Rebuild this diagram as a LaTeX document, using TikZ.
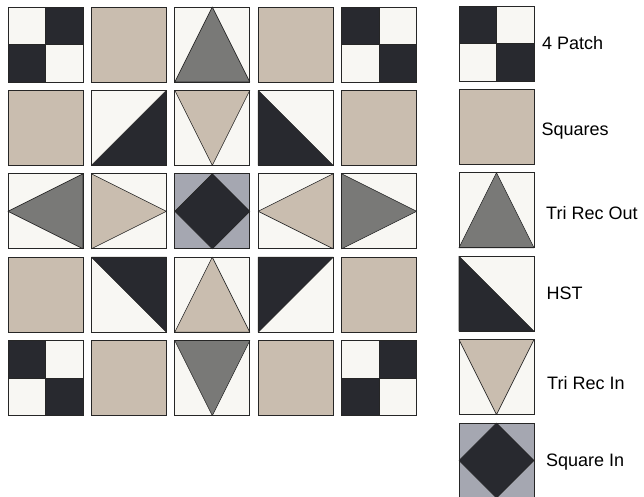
\documentclass[tikz,border=0pt]{standalone}
\usepackage{fontspec}
\setmainfont{Liberation Sans}
\definecolor{cream}{HTML}{F8F7F3}
\definecolor{ink}{HTML}{28292F}
\definecolor{sand}{HTML}{C9BDAF}
\definecolor{slate}{HTML}{797977}
\definecolor{mist}{HTML}{A5A7B1}
\tikzstyle{edge}=[draw=black!85, line width=0.8pt]
\tikzstyle{piece}=[edge, line width=0.6pt, line join=round]
\tikzstyle{label}=[anchor=base west, inner sep=0pt, font={\fontsize{18}{21}\selectfont}]
% one block: x, y (top left, px), ground colour, pieces
\newcommand{\quiltblock}[4]{%
  \begin{scope}[shift={(#1,#2)}, x=75pt, y=-75pt]
    \fill[#3] (0,0) rectangle (1,1);
    #4
    \draw[edge] (0,0) rectangle (1,1);
  \end{scope}}
\newcommand{\patchTL}{\fill[ink] (0,0) rectangle (0.5,0.5); \fill[ink] (0.5,0.5) rectangle (1,1); \draw[piece] (0.5,0) -- (0.5,1) (0,0.5) -- (1,0.5);}
\newcommand{\patchTR}{\fill[ink] (0.5,0) rectangle (1,0.5); \fill[ink] (0,0.5) rectangle (0.5,1); \draw[piece] (0.5,0) -- (0.5,1) (0,0.5) -- (1,0.5);}
\begin{document}
\begin{tikzpicture}[x=1pt, y=-1pt]
    \useasboundingbox[fill=white] (0,0) rectangle (644,497);

    % quilt, row 1
    \quiltblock{8}{7}{cream}{\patchTR}
    \quiltblock{91.4}{7}{sand}{}
    \quiltblock{174.8}{7}{cream}{\filldraw[piece, fill=slate] (0,1) -- (0.5,0) -- (1,1) -- cycle;}
    \quiltblock{258.2}{7}{sand}{}
    \quiltblock{341.6}{7}{cream}{\patchTL}
    % row 2
    \quiltblock{8}{90.4}{sand}{}
    \quiltblock{91.4}{90.4}{cream}{\filldraw[piece, fill=ink] (0,1) -- (1,0) -- (1,1) -- cycle;}
    \quiltblock{174.8}{90.4}{cream}{\filldraw[piece, fill=sand] (0,0) -- (0.5,1) -- (1,0) -- cycle;}
    \quiltblock{258.2}{90.4}{cream}{\filldraw[piece, fill=ink] (0,0) -- (0,1) -- (1,1) -- cycle;}
    \quiltblock{341.6}{90.4}{sand}{}
    % row 3
    \quiltblock{8}{173.8}{cream}{\filldraw[piece, fill=slate] (0,0.5) -- (1,0) -- (1,1) -- cycle;}
    \quiltblock{91.4}{173.8}{cream}{\filldraw[piece, fill=sand] (0,0) -- (1,0.5) -- (0,1) -- cycle;}
    \quiltblock{174.8}{173.8}{mist}{\filldraw[piece, fill=ink] (0.5,0) -- (1,0.5) -- (0.5,1) -- (0,0.5) -- cycle;}
    \quiltblock{258.2}{173.8}{cream}{\filldraw[piece, fill=sand] (0,0.5) -- (1,0) -- (1,1) -- cycle;}
    \quiltblock{341.6}{173.8}{cream}{\filldraw[piece, fill=slate] (0,0) -- (1,0.5) -- (0,1) -- cycle;}
    % row 4
    \quiltblock{8}{257.2}{sand}{}
    \quiltblock{91.4}{257.2}{cream}{\filldraw[piece, fill=ink] (0,0) -- (1,0) -- (1,1) -- cycle;}
    \quiltblock{174.8}{257.2}{cream}{\filldraw[piece, fill=sand] (0,1) -- (0.5,0) -- (1,1) -- cycle;}
    \quiltblock{258.2}{257.2}{cream}{\filldraw[piece, fill=ink] (0,0) -- (1,0) -- (0,1) -- cycle;}
    \quiltblock{341.6}{257.2}{sand}{}
    % row 5
    \quiltblock{8}{340.6}{cream}{\patchTL}
    \quiltblock{91.4}{340.6}{sand}{}
    \quiltblock{174.8}{340.6}{cream}{\filldraw[piece, fill=slate] (0,0) -- (0.5,1) -- (1,0) -- cycle;}
    \quiltblock{258.2}{340.6}{sand}{}
    \quiltblock{341.6}{340.6}{cream}{\patchTR}

    % key
    \quiltblock{459}{6}{cream}{\patchTL}
    \quiltblock{459}{89.4}{sand}{}
    \quiltblock{459}{172.8}{cream}{\filldraw[piece, fill=slate] (0,1) -- (0.5,0) -- (1,1) -- cycle;}
    \quiltblock{459}{256.2}{cream}{\filldraw[piece, fill=ink] (0,0) -- (0,1) -- (1,1) -- cycle;}
    \quiltblock{459}{339.6}{cream}{\filldraw[piece, fill=sand] (0,0) -- (0.5,1) -- (1,0) -- cycle;}
    \quiltblock{459}{423}{mist}{\filldraw[piece, fill=ink] (0.5,0) -- (1,0.5) -- (0.5,1) -- (0,0.5) -- cycle;}

    \node[label] (fourpatch) at (542,50) {4 Patch};
    \node[label] (squares) at (541.5,136) {Squares};
    \node[label] (trirecout) at (546,219.3) {Tri Rec Out};
    \node[label] (hst) at (546.5,299.3) {HST};
    \node[label] (trirecin) at (547,389.3) {Tri Rec In};
    \node[label] (squarein) at (546,466.7) {Square In};
\end{tikzpicture}
\end{document}
